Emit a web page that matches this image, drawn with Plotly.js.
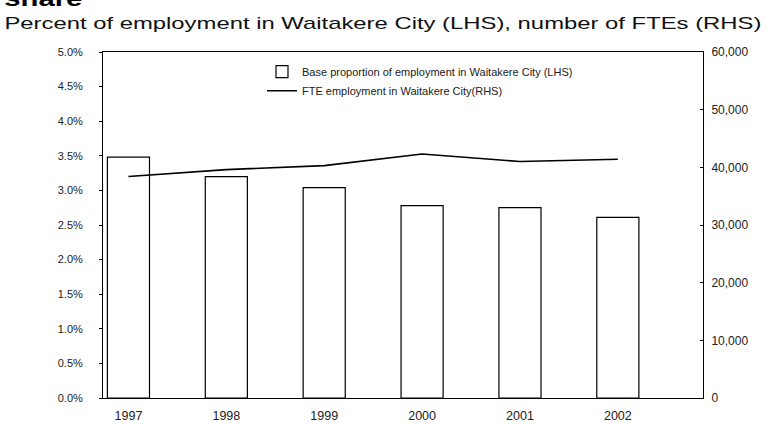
<!DOCTYPE html>
<html>
<head>
<meta charset="utf-8">
<script src="https://cdn.plot.ly/plotly-3.0.1.min.js"></script>
<style>html,body{margin:0;padding:0;background:#fff;}#chart{width:767px;height:425px;}</style>
</head>
<body>
<div id="chart"></div>
<script>
const years = ['1997', '1998', '1999', '2000', '2001', '2002'];
const shareValues = [0.0348, 0.0320, 0.0304, 0.0278, 0.0275, 0.0261];
const fteValues = [38400, 39600, 40300, 42300, 41000, 41400];
const shareName = 'Base proportion of employment in Waitakere City (LHS)';
const fteName = 'FTE employment in Waitakere City(RHS)';
const titleText = 'Percent of employment in Waitakere City (LHS), number of FTEs (RHS)';
const headText = 'share';

const font = 'Arial, "Liberation Sans", sans-serif';

const traces = [
  {
    type: 'bar', x: years, y: shareValues, name: shareName,
    marker: {color: '#ffffff', line: {color: '#000000', width: 1.2}},
    width: 0.43, yaxis: 'y'
  },
  {
    type: 'scatter', mode: 'lines', x: years, y: fteValues, name: fteName,
    line: {color: '#000000', width: 1.6}, yaxis: 'y2'
  }
];

const layout = {
  width: 767, height: 425,
  margin: {l: 103, r: 64, t: 52, b: 27},
  paper_bgcolor: '#ffffff', plot_bgcolor: '#ffffff',
  font: {family: font, size: 11, color: '#222'},
  showlegend: true,
  legend: {x: 0.265, y: 0.985, xanchor: 'left', yanchor: 'top', bgcolor: 'rgba(0,0,0,0)',
           font: {size: 11, color: '#222'}, tracegroupgap: 2, itemwidth: 30},
  xaxis: {
    type: 'category', range: [-0.26, 5.87], showgrid: false,
    showline: true, linecolor: '#000', linewidth: 1, mirror: true,
    ticks: '', tickfont: {size: 12.5, color: '#222'}, ticklabelstandoff: 6, fixedrange: true
  },
  yaxis: {
    range: [0, 0.05], dtick: 0.005, tickformat: '.1%', showgrid: false,
    showline: true, linecolor: '#000', linewidth: 1,
    ticks: 'outside', ticklen: 3, tickcolor: '#000',
    tickfont: {size: 11, color: '#222'}, ticklabelstandoff: 14, zeroline: false
  },
  yaxis2: {
    range: [0, 60000], dtick: 10000, tickformat: ',d', overlaying: 'y', side: 'right',
    showgrid: false, showline: true, linecolor: '#000', linewidth: 1,
    ticks: 'inside', ticklen: 3, tickcolor: '#000',
    tickfont: {size: 12, color: '#222'}, ticklabelstandoff: 5, zeroline: false
  },
  annotations: [
    {text: '<b>' + headText + '</b>', xref: 'paper', yref: 'paper', x: (43 - 103) / 600,
     y: 1, yshift: 54, xanchor: 'center', yanchor: 'middle', showarrow: false,
     font: {size: 22, color: '#000', family: font}},
    {text: titleText, xref: 'paper', yref: 'paper', x: (382.5 - 103) / 600,
     y: 1, yshift: 29, xanchor: 'center', yanchor: 'middle', showarrow: false,
     font: {size: 17, color: '#111', family: font}}
  ]
};

Plotly.newPlot('chart', traces, layout, {displayModeBar: false, staticPlot: true}).then(function (gd) {
  // the reference lettering is set wide: stretch the real text horizontally about its centre
  const widths = {};
  widths[headText] = 78;
  widths[titleText] = 757;
  gd.querySelectorAll('.annotation-text').forEach(function (t) {
    const w = widths[t.textContent];
    if (w) {
      t.setAttribute('textLength', w);
      t.setAttribute('lengthAdjust', 'spacingAndGlyphs');
    }
  });
});
</script>
</body>
</html>
